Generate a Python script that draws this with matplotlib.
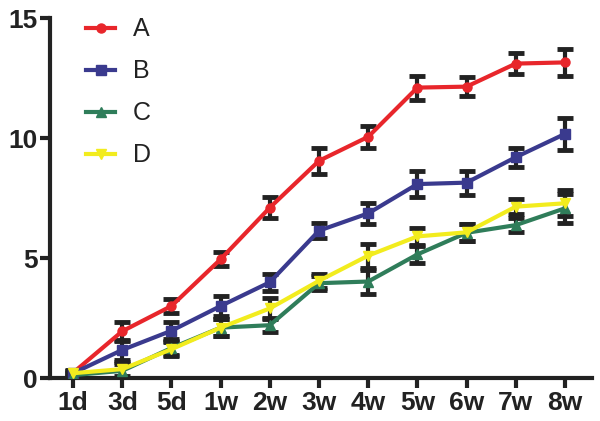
import matplotlib
matplotlib.use("Agg")
import matplotlib.pyplot as plt
from matplotlib.lines import Line2D

plt.rcParams['font.family'] = ['Liberation Sans', 'DejaVu Sans']

categories = ["1d", "3d", "5d", "1w", "2w", "3w", "4w", "5w", "6w", "7w", "8w"]
A = [0.22, 1.95, 3.0, 4.95, 7.1, 9.05, 10.05, 12.1, 12.14, 13.1, 13.15]
A_err = [0.1, 0.4, 0.3, 0.3, 0.45, 0.55, 0.45, 0.5, 0.4, 0.45, 0.55]
B = [0.2, 1.17, 1.97, 3.0, 3.99, 6.14, 6.86, 8.08, 8.14, 9.2, 10.17]
B_err = [0.1, 0.4, 0.35, 0.4, 0.35, 0.3, 0.45, 0.55, 0.5, 0.4, 0.65]
C = [0.12, 0.3, 1.25, 2.1, 2.2, 3.95, 4.02, 5.15, 6.05, 6.37, 7.07]
C_err = [0.1, 0.3, 0.3, 0.35, 0.3, 0.3, 0.5, 0.35, 0.35, 0.3, 0.6]
D = [0.2, 0.37, 1.2, 2.1, 2.9, 4.05, 5.1, 5.9, 6.07, 7.14, 7.28]
D_err = [0.1, 0.3, 0.3, 0.35, 0.45, 0.3, 0.5, 0.35, 0.35, 0.3, 0.55]

series = [("A", A, A_err, "#E8262B", "o"),
          ("B", B, B_err, "#3A3A8E", "s"),
          ("C", C, C_err, "#2F7D5A", "^"),
          ("D", D, D_err, "#F2EC1E", "v")]

fig = plt.figure(figsize=(6.0, 4.21), dpi=100)
ax = fig.add_axes([50/600, 43/421, 542/600, 360/421])
x = list(range(len(categories)))

handles = []
for name, vals, errs, col, mk in series:
    ax.errorbar(x, vals, yerr=errs, fmt='none', ecolor='#222222', elinewidth=3,
                capsize=6, capthick=3.5, zorder=2)
    ax.plot(x, vals, color=col, lw=3, marker=mk, ms=6.5, zorder=3)
    handles.append(Line2D([], [], color=col, lw=3, marker=mk, ms=6.5))

ax.set_xlim(-0.47, 10.55)
ax.set_ylim(0, 15)
ax.set_yticks([0, 5, 10, 15])
ax.set_xticks(x)
ax.set_xticklabels(categories)
for s in ['top', 'right']:
    ax.spines[s].set_visible(False)
for s in ['left', 'bottom']:
    ax.spines[s].set_linewidth(3)
    ax.spines[s].set_color('#222222')
ax.tick_params(axis='both', width=3, length=7, color='#222222', labelsize=19,
               labelcolor='#222222', pad=2)
for lab in ax.get_xticklabels() + ax.get_yticklabels():
    lab.set_fontweight('bold')

leg = ax.legend(handles, ["A", "B", "C", "D"], loc='upper left',
                bbox_to_anchor=(0.035, 1.05), frameon=False, fontsize=18,
                handlelength=1.15, handletextpad=0.7, labelspacing=0.72,
                borderpad=0.2)
for t in leg.get_texts():
    t.set_color('#222222')

fig.savefig("out.png", dpi=100)
